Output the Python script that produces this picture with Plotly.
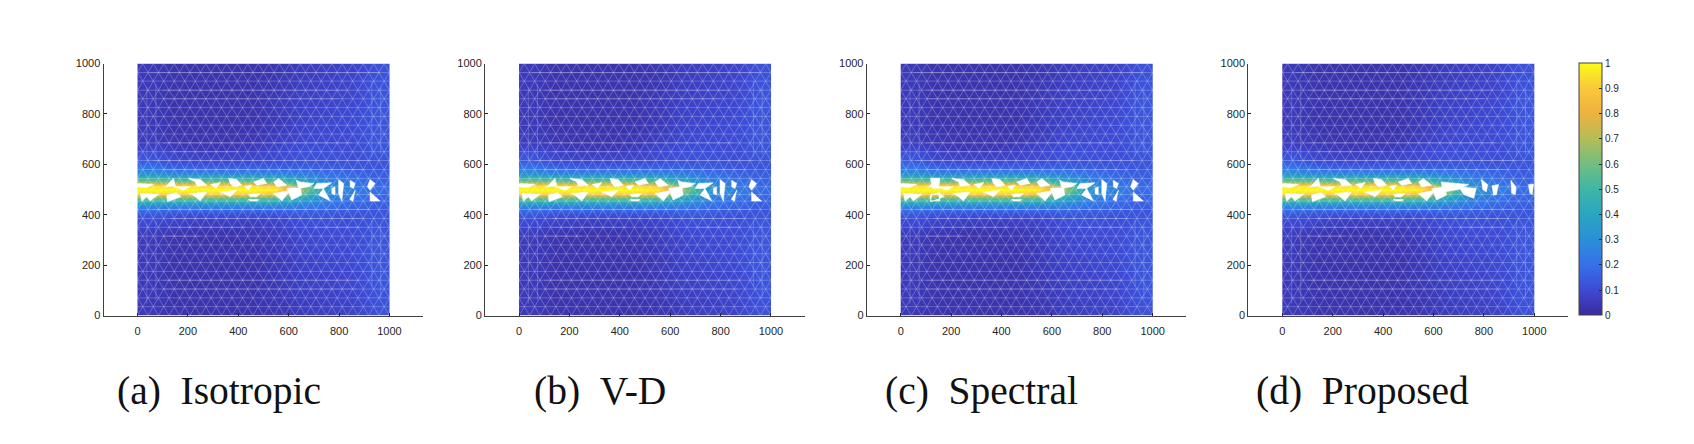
import plotly.graph_objects as go
from plotly.subplots import make_subplots

W = 1694
H = 444

captions = ["(a)\u2002Isotropic", "(b)\u2002V-D", "(c)\u2002Spectral", "(d)\u2002Proposed"]
caption_left = [115, 532, 883, 1254]

#pixel position of each x axis line
axis_left = [103.5, 485, 866.7, 1248.3]
axis_right = [423, 804.5, 1186.2, 1567.8]
plot_top = 63.5
plot_bottom = 315.5

x_ticks = [0, 200, 400, 600, 800, 1000]
y_ticks = [0, 200, 400, 600, 800, 1000]
cbar_ticks = [0, 0.1, 0.2, 0.3, 0.4, 0.5, 0.6, 0.7, 0.8, 0.9, 1]
cbar_labels = ["0", "0.1", "0.2", "0.3", "0.4", "0.5", "0.6", "0.7", "0.8", "0.9", "1"]

parula = [
    [0.0, "#3b2a9c"], [0.1, "#3d4ad5"], [0.2, "#3671ea"], [0.3, "#2b8fd6"],
    [0.4, "#2aa6c0"], [0.5, "#3eb7a6"], [0.6, "#73bd80"], [0.7, "#b5bd57"],
    [0.8, "#eeb23f"], [0.9, "#f9c93a"], [1.0, "#f9fb15"]]

#damage field (cells between the edges)
x_edges = [0, 100, 200, 300, 400, 500, 600, 700, 800, 900, 1000]
y_edges = [0, 100, 200, 300, 350, 400, 425, 445, 460, 475, 490, 510, 525, 540, 555, 575, 600, 650, 700, 800, 900, 1000]
damage = [
    [.05, .03, .03, .03, .03, .04, .06, .07, .08, .12],
    [.05, .03, .03, .03, .03, .05, .07, .08, .09, .13],
    [.05, .03, .03, .03, .03, .05, .08, .09, .10, .13],
    [.06, .04, .03, .03, .04, .06, .09, .10, .10, .13],
    [.10, .08, .07, .07, .07, .08, .11, .12, .11, .13],
    [.17, .15, .15, .15, .15, .15, .16, .15, .14, .13],
    [.28, .26, .26, .26, .26, .26, .24, .20, .17, .15],
    [.46, .44, .44, .44, .44, .42, .33, .24, .19, .16],
    [.62, .60, .60, .60, .60, .56, .42, .27, .21, .17],
    [.92, .90, .90, .90, .90, .84, .56, .30, .23, .18],
    [1.0, 1.0, 1.0, 1.0, 1.0, .98, .68, .34, .26, .19],
    [.92, .90, .90, .90, .90, .84, .56, .30, .23, .18],
    [.62, .60, .60, .60, .60, .56, .42, .27, .21, .17],
    [.46, .44, .44, .44, .44, .42, .33, .24, .19, .16],
    [.30, .26, .26, .26, .26, .26, .24, .20, .17, .15],
    [.22, .17, .16, .16, .16, .16, .16, .15, .14, .13],
    [.13, .09, .08, .08, .09, .10, .12, .12, .11, .13],
    [.07, .05, .04, .04, .05, .08, .10, .10, .10, .13],
    [.05, .03, .03, .03, .03, .05, .08, .09, .10, .13],
    [.05, .03, .03, .03, .03, .05, .07, .08, .09, .13],
    [.05, .03, .03, .03, .03, .04, .06, .07, .08, .12]]

#mesh nodes
mesh_cols = [0, 42, 83, 125, 167, 208, 250, 292, 333, 375, 417, 458, 500, 542, 583, 625, 667, 708, 750, 792, 833, 875, 917, 958, 1000]
mesh_rows = [0, 35, 70, 105, 140, 175, 210, 245, 280, 315, 350, 385, 421, 454, 480, 511, 544, 579, 615, 650, 685, 720, 755, 790, 825, 860, 894, 930, 964, 1000]

#brighter mesh edges: [y, x start, x end] and [x, y start, y end]
h_streaks = [[964, 50, 960], [894, 100, 830], [860, 100, 800], [685, 100, 850], [650, 130, 400], [615, 60, 930],
             [579, 100, 900], [421, 60, 920], [385, 130, 900], [350, 130, 430], [350, 700, 880], [315, 100, 250],
             [140, 100, 880], [105, 100, 870]]
v_streaks = [[37, 615, 905], [73, 625, 920], [930, 630, 930], [965, 640, 905],
             [37, 48, 365], [73, 60, 375], [930, 115, 380], [965, 70, 360]]

#holes in the crack band, elements deleted from the mesh
holes_common = [
    [[0, 64, 37, 0], [524, 521, 508, 510]],
    [[123, 143, 150, 110], [524, 545, 515, 510]],
    [[202, 249, 275, 236, 229], [544, 540, 517, 513, 530]],
    [[361, 394, 414, 381, 368], [544, 540, 517, 511, 524]],
    [[460, 500, 513, 474], [530, 544, 524, 517]],
    [[540, 560, 593, 553], [530, 544, 517, 511]],
    [[143, 209, 183], [511, 511, 497]],
    [[290, 330, 312], [520, 528, 505]],
    [[425, 455, 440], [512, 518, 498]],
    [[11, 84, 50, 37, 17], [484, 481, 454, 471, 454]],
    [[116, 153, 172, 150, 119], [477, 488, 471, 462, 451]],
    [[209, 275, 249, 229], [484, 490, 454, 471]],
    [[328, 394, 368], [490, 497, 471]],
    [[440, 487, 474, 447], [481, 484, 471, 471]],
    [[440, 480, 474, 447], [460, 460, 454, 454]],
    [[540, 606, 573], [484, 497, 454]],
    [[593, 646, 652, 612], [504, 511, 478, 458]]]
holes_tail = [
    [[630, 646, 700, 680, 640], [537, 530, 524, 511, 504]],
    [[711, 771, 738, 699], [524, 527, 504, 504]],
    [[718, 738, 765, 732], [478, 504, 454, 471]],
    [[771, 784, 784, 771], [504, 511, 478, 484]],
    [[798, 818, 811, 798], [540, 524, 454, 484]],
    [[844, 864, 857, 844], [537, 524, 504, 511]],
    [[864, 855, 842], [497, 454, 460]],
    [[923, 943, 923, 912], [540, 524, 497, 511]],
    [[923, 963, 923], [490, 454, 454]]]
holes_spectral = [
    [[118, 156, 150, 125], [545, 545, 505, 505]],
    [[118, 156, 150, 125], [455, 455, 480, 480]]]
holes_proposed = [
    [[630, 680, 740, 700, 640], [530, 525, 520, 500, 490]],
    [[700, 770, 760, 720], [510, 505, 465, 480]],
    [[790, 815, 810, 795], [540, 520, 490, 500]],
    [[832, 858, 850, 838], [515, 520, 480, 477]],
    [[907, 928, 925, 910], [537, 510, 480, 485]],
    [[977, 997, 992, 982], [520, 522, 480, 485]]]

panel_holes = [
    holes_common + holes_tail,
    holes_common + holes_tail,
    holes_common + holes_tail + holes_spectral,
    holes_common + holes_proposed]


def mesh_lines():
    xs, ys = [], []
    for i, row in enumerate(mesh_rows):
        xs += [mesh_cols[0], mesh_cols[-1], None]
        ys += [row, row, None]
        if i == len(mesh_rows) - 1:
            break
        top = mesh_rows[i + 1]
        for a, b in zip(mesh_cols[:-1], mesh_cols[1:]):
            mid = (a + b) / 2
            if i % 2 == 0:
                xs += [a, mid, b, None]
                ys += [row, top, row, None]
            else:
                xs += [a, mid, b, None]
                ys += [top, row, top, None]
    return xs, ys


def streak_lines():
    xs, ys = [], []
    for y, a, b in h_streaks:
        xs += [a, b, None]
        ys += [y, y, None]
    for x, a, b in v_streaks:
        xs += [x, x, None]
        ys += [a, b, None]
    return xs, ys


fig = make_subplots(rows=1, cols=4)
mesh_x, mesh_y = mesh_lines()
streak_x, streak_y = streak_lines()

for i in range(4):
    col = i + 1
    fig.add_trace(go.Heatmap(x=x_edges, y=y_edges, z=damage, coloraxis="coloraxis", zsmooth="best", hoverinfo="skip"), row=1, col=col)
    fig.add_trace(go.Scatter(x=mesh_x, y=mesh_y, mode="lines", showlegend=False, hoverinfo="skip",
                             line=dict(color="rgba(255,255,255,0.3)", width=0.8)), row=1, col=col)
    fig.add_trace(go.Scatter(x=streak_x, y=streak_y, mode="lines", showlegend=False, hoverinfo="skip",
                             line=dict(color="rgba(255,255,255,0.25)", width=0.8)), row=1, col=col)
    hx, hy = [], []
    for px, py in panel_holes[i]:
        hx += px + [px[0], None]
        hy += py + [py[0], None]
    fig.add_trace(go.Scatter(x=hx, y=hy, mode="lines", fill="toself", fillcolor="white", showlegend=False, hoverinfo="skip",
                             line=dict(color="white", width=0.5)), row=1, col=col)

    fig.update_xaxes(
        domain=[axis_left[i] / W, axis_right[i] / W], range=[-135, 1133], row=1, col=col,
        tickvals=x_ticks, ticks="inside", ticklen=3, tickcolor="#262626", showgrid=False, zeroline=False, ticklabelstandoff=5,
        showline=True, linecolor="#404040", linewidth=1, tickfont=dict(family="Liberation Sans", size=11, color="#262626"))
    fig.update_yaxes(
        domain=[1 - plot_bottom / H, 1 - plot_top / H], range=[0, 1000], row=1, col=col,
        tickvals=y_ticks, ticks="inside", ticklen=3, tickcolor="#262626", showgrid=False, zeroline=False,
        showline=True, linecolor="#404040", linewidth=1, tickfont=dict(family="Liberation Sans", size=11, color="#262626"))
    fig.add_annotation(text=captions[i], xref="paper", yref="paper", x=caption_left[i] / W, y=1 - 391 / H,
                       xanchor="left", yanchor="middle", showarrow=False,
                       font=dict(family="Liberation Serif", size=39.5, color="#111111"))

fig.update_layout(
    width=W, height=H, margin=dict(l=0, r=0, t=0, b=0, autoexpand=False), paper_bgcolor="white", plot_bgcolor="white", showlegend=False,
    coloraxis=dict(
        colorscale=parula, cmin=0, cmax=1,
        colorbar=dict(
            x=1579.3 / W, xanchor="left", xpad=0, y=1 - 315.3 / H, yanchor="bottom", ypad=0,
            len=252, lenmode="pixels", thickness=23, thicknessmode="pixels",
            tickvals=cbar_ticks, ticktext=cbar_labels, ticks="inside", ticklen=3, tickcolor="#262626",
            outlinecolor="#404040", outlinewidth=1,
            tickfont=dict(family="Liberation Sans", size=10, color="#262626"))))

fig.write_html("out.html", config={"displayModeBar": False},
               post_script="document.body.style.margin='0';document.body.style.overflow='hidden';")
